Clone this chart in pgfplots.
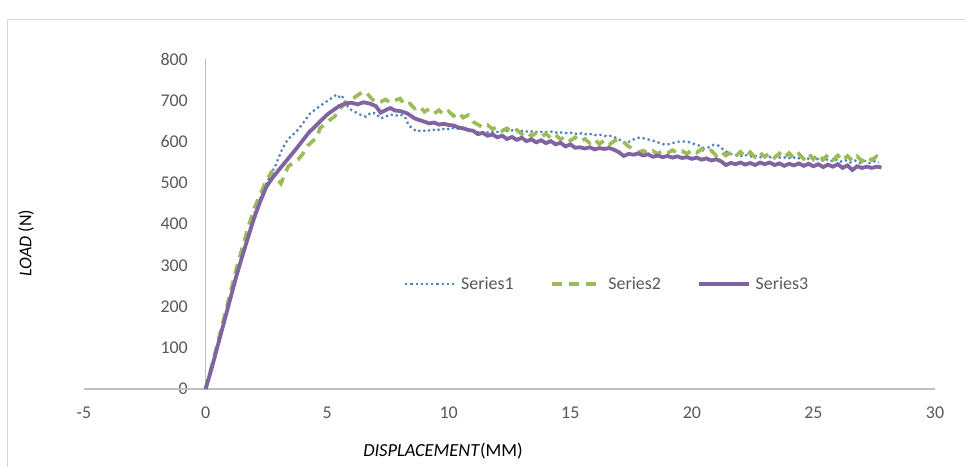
\documentclass[border=0pt]{standalone}
\usepackage{fontspec}
\setmainfont{Carlito}
\usepackage{pgfplots}
\usepackage{pgfplotstable}
\pgfplotsset{compat=1.18}
\definecolor{sone}{HTML}{4F81BD}
\definecolor{stwo}{HTML}{9BBB59}
\definecolor{sthree}{HTML}{8064A2}
\definecolor{tickgray}{HTML}{595959}
\definecolor{axgray}{HTML}{BFBFBF}
\definecolor{framegray}{HTML}{D9D9D9}
\pgfplotstableread{
x y
0 0
0.25 52
0.5 106
0.75 162
1.0 218
1.25 274
1.5 326
1.75 376
2.0 425
2.25 462
2.5 498
2.7 522
2.9 545
3.1 575
3.3 598
3.5 612
3.7 622
3.9 636
4.1 652
4.3 668
4.5 677
4.7 686
4.9 694
5.1 702
5.3 710
5.4 714
5.5 708
5.6 712
5.7 700
5.8 688
6.0 676
6.2 670
6.4 664
6.6 660
6.8 670
7.0 668
7.2 656
7.4 660
7.6 666
7.8 662
8.0 666
8.2 660
8.35 640
8.5 632
8.7 624
8.9 628
9.1 624
9.3 630
9.5 626
9.7 632
9.9 628
10.1 634
10.3 630
10.5 632
10.7 628
10.9 630
11.1 624
11.3 621
11.5 624
11.7 620
11.9 625
12.1 622
12.3 627
12.5 624
12.7 629
12.9 624
13.1 627
13.3 622
13.5 626
13.7 621
13.9 625
14.1 622
14.3 625
14.5 620
14.7 623
14.9 619
15.1 622
15.3 617
15.5 621
15.7 616
15.9 619
16.1 614
16.3 617
16.5 612
16.7 614
16.9 608
17.1 602
17.3 596
17.5 602
17.7 608
17.9 610
18.1 606
18.3 604
18.5 600
18.7 596
18.9 592
19.1 594
19.3 598
19.5 600
19.7 600
19.9 598
20.1 594
20.3 590
20.5 584
20.7 586
20.9 592
21.1 590
21.3 580
21.5 572
21.7 568
21.9 566
22.1 564
22.3 568
22.5 562
22.7 566
22.9 560
23.1 565
23.3 560
23.5 564
23.7 559
23.9 563
24.1 558
24.3 563
24.5 556
24.7 561
24.9 555
25.1 560
25.3 553
25.5 558
25.7 552
25.9 557
26.1 551
26.3 555
26.5 549
26.7 554
26.9 548
27.1 553
27.3 548
27.5 552
27.7 549
}\seriesone
\pgfplotstableread{
x y
0 0
0.25 55
0.5 112
0.75 170
1.0 228
1.25 288
1.5 340
1.75 392
2.0 438
2.25 472
2.5 505
2.7 525
2.9 512
3.1 498
3.25 520
3.4 540
3.6 548
3.8 556
4.0 570
4.2 590
4.35 598
4.5 606
4.6 612
4.7 632
4.9 642
5.1 652
5.3 660
5.5 678
5.7 690
5.9 702
6.1 706
6.3 714
6.5 722
6.65 716
6.8 706
7.0 694
7.2 696
7.4 702
7.6 694
7.8 700
8.0 704
8.2 688
8.4 692
8.6 680
8.8 686
9.0 672
9.2 679
9.4 668
9.6 676
9.8 665
10.0 673
10.2 662
10.4 670
10.6 658
10.8 664
11.0 648
11.2 641
11.4 634
11.6 640
11.8 630
12.0 636
12.2 626
12.4 632
12.6 622
12.8 628
13.0 618
13.2 624
13.4 613
13.6 621
13.8 611
14.0 619
14.2 608
14.4 616
14.6 605
14.8 613
15.0 602
15.2 610
15.4 600
15.6 606
15.8 596
16.0 605
16.2 594
16.4 603
16.6 592
16.8 601
17.0 605
17.2 598
17.4 588
17.6 582
17.8 574
18.0 578
18.2 571
18.4 577
18.6 570
18.8 578
19.0 572
19.2 579
19.4 572
19.6 577
19.8 570
20.0 580
20.2 573
20.4 582
20.6 572
20.8 578
21.0 566
21.2 576
21.4 566
21.6 574
21.8 564
22.0 575
22.2 563
22.4 574
22.6 562
22.8 573
23.0 563
23.2 572
23.4 561
23.6 571
23.8 560
24.0 572
24.2 559
24.4 570
24.6 558
24.8 571
25.0 557
25.2 569
25.4 556
25.6 568
25.8 555
26.0 566
26.2 554
26.4 565
26.6 553
26.8 564
27.0 552
27.2 563
27.4 555
27.6 564
27.7 560
}\seriestwo
\pgfplotstableread{
x y
0 0
0.25 50
0.5 105
0.75 160
1.0 215
1.25 270
1.5 320
1.75 368
2.0 415
2.25 455
2.5 490
2.75 512
3.0 530
3.25 548
3.5 566
3.75 584
4.0 603
4.25 622
4.5 636
4.75 651
5.0 665
5.25 676
5.5 686
5.75 692
6.0 694
6.25 690
6.5 695
6.75 692
7.0 686
7.2 670
7.4 676
7.6 681
7.8 675
8.0 674
8.3 668
8.6 656
8.8 652
9.0 648
9.2 644
9.4 646
9.6 641
9.8 643
10.0 640
10.2 639
10.4 634
10.6 632
10.8 628
11.0 626
11.2 618
11.4 621
11.6 614
11.8 617
12.0 610
12.2 614
12.4 606
12.6 611
12.8 604
13.0 609
13.2 601
13.4 605
13.6 598
13.8 603
14.0 596
14.2 601
14.4 593
14.6 597
14.8 588
15.0 593
15.2 585
15.4 586
15.6 583
15.8 586
16.0 581
16.2 584
16.4 582
16.6 584
16.8 580
17.0 574
17.2 565
17.4 570
17.6 568
17.8 571
18.0 566
18.2 569
18.4 563
18.6 566
18.8 562
19.0 565
19.2 561
19.4 564
19.6 560
19.8 562
20.0 558
20.2 561
20.4 556
20.6 559
20.8 554
21.0 557
21.2 552
21.4 543
21.6 548
21.8 545
22.0 549
22.2 544
22.4 548
22.6 543
22.8 549
23.0 545
23.2 549
23.4 543
23.6 547
23.8 541
24.0 546
24.2 542
24.4 547
24.6 541
24.8 546
25.0 540
25.2 545
25.4 538
25.6 544
25.8 539
26.0 545
26.2 536
26.4 542
26.6 531
26.8 540
27.0 536
27.2 539
27.4 536
27.6 539
27.8 537
}\seriesthree
\begin{document}
\begin{tikzpicture}
\useasboundingbox (0,0) rectangle (965bp,467bp);
\fill[white] (0,0) rectangle (965bp,467bp);
\draw[framegray, line width=1bp] (7bp,0) -- (7bp,447bp) -- (966bp,447bp);
\begin{axis}[
  at={(84bp,78bp)}, anchor=south west,
  scale only axis, width=851bp, height=330bp,
  xmin=-5, xmax=30, ymin=0, ymax=800,
  xtick={-5,0,5,10,15,20,25,30},
  ytick={0,100,200,300,400,500,600,700,800},
  axis line style={draw=none},
  major tick length=0pt,
  clip=false,
  /pgf/number format/assume math mode=true,
  tick label style={font=\fontsize{18}{21}\selectfont, text=tickgray},
  xticklabel style={anchor=center, yshift=-24bp},
  yticklabel style={anchor=east, inner sep=0pt, xshift=104bp},
  legend columns=3,
  legend style={at={(0.6165,0.318)}, anchor=center, draw=none, fill=none,
    font=\fontsize{18}{21}\selectfont, text=tickgray,
    nodes={inner xsep=5bp},
    /tikz/every even column/.append style={column sep=31bp}},
  legend image code/.code={\draw[#1] (0bp,0bp) -- (50bp,0bp);},
]
\draw[axgray, line width=1.3bp] (axis cs:-5,0) -- (axis cs:30,0);
\draw[axgray, line width=1.3bp] (axis cs:0,0) -- (axis cs:0,800);
\addplot[sone, line width=2.2bp, dash pattern=on 2.2bp off 3bp] table[x=x,y=y] {\seriesone};
\addlegendentry{Series1}
\addplot[stwo, line width=3.6bp, dash pattern=on 10bp off 7bp] table[x=x,y=y] {\seriestwo};
\addlegendentry{Series2}
\addplot[sthree, line width=3.8bp] table[x=x,y=y] {\seriesthree};
\addlegendentry{Series3}
\end{axis}
\node[rotate=90, font=\fontsize{18}{21}\selectfont] at (26bp,224bp) {\textit{LOAD} (N)};
\node[font=\fontsize{18.5}{21}\selectfont] at (443bp,16bp) {\textit{DISPLACEMENT}(MM)};
\end{tikzpicture}
\end{document}
